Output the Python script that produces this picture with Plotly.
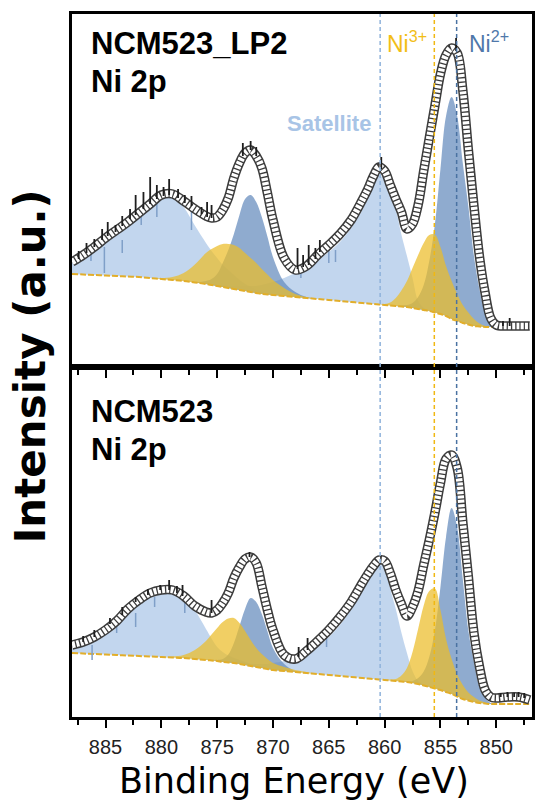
import plotly.graph_objects as go

# ---------------- data (binding energy grid, eV) ----------------
energy = [888, 887, 886, 885, 884, 883, 882, 881, 880, 879, 878, 877,
          876, 875.5, 875, 874.5, 874, 873.5, 873, 872.5, 872, 871.5, 871, 870.5, 870,
          869, 868, 867, 866, 865, 864, 863, 862,
          861.5, 861, 860.5, 860, 859.5, 859, 858.5, 858, 857.5, 857, 856.5, 856,
          855.5, 855, 854.5, 854, 853.5, 853, 852.5, 852, 851.5, 851, 850.5,
          850, 849, 848, 847]

# ----- NCM523_LP2 (top panel), intensities in a.u. -----
bg_lp2 = [93, 92.5, 92, 91.5, 91, 90.5, 90, 89, 88, 87, 86, 84.5,
          83, 82, 81, 80, 79, 78, 77, 76, 75, 74, 73, 72.5, 72,
          71, 70, 69, 68, 67, 66, 65, 64,
          63.5, 63, 62.5, 62, 61.5, 61, 60.5, 60, 59, 58, 57, 56,
          54.5, 53, 51, 48, 46, 44, 42.5, 41, 40.5, 40, 40,
          40, 40, 40, 40]
sat1_lp2 = [11, 17, 25, 34, 43, 52, 61, 72, 81, 84, 74, 57,
            41, 34, 28, 22, 18, 14, 10, 7, 5, 3, 2, 1, 0,
            0, 0, 0, 0, 0, 0, 0, 0,
            0, 0, 0, 0, 0, 0, 0, 0, 0, 0, 0, 0,
            0, 0, 0, 0, 0, 0, 0, 0, 0, 0, 0,
            0, 0, 0, 0]
ni3_12_lp2 = [0, 0, 0, 0, 0, 0, 0, 0, 1, 3, 8, 18,
              31, 36, 40, 43, 44, 44, 42, 38, 34, 30, 25, 20, 15,
              8, 3, 1, 0, 0, 0, 0, 0,
              0, 0, 0, 0, 0, 0, 0, 0, 0, 0, 0, 0,
              0, 0, 0, 0, 0, 0, 0, 0, 0, 0, 0,
              0, 0, 0, 0]
ni2_12_lp2 = [0, 0, 0, 0, 0, 0, 0, 0, 0, 0, 0, 0,
              3, 6, 12, 24, 38, 55, 75, 92, 97, 91, 77, 58, 38,
              14, 5, 1, 0, 0, 0, 0, 0,
              0, 0, 0, 0, 0, 0, 0, 0, 0, 0, 0, 0,
              0, 0, 0, 0, 0, 0, 0, 0, 0, 0, 0,
              0, 0, 0, 0]
sat2_lp2 = [0, 0, 0, 0, 0, 0, 0, 0, 0, 0, 0, 0,
            1, 1, 1, 2, 2, 3, 4, 5, 6, 7, 9, 11, 13,
            18, 24, 31, 39, 48, 59, 74, 93,
            106, 120, 129, 126, 114, 97, 72, 51, 30, 8, 2, 0,
            0, 0, 0, 0, 0, 0, 0, 0, 0, 0, 0,
            0, 0, 0, 0]
ni3_32_lp2 = [0, 0, 0, 0, 0, 0, 0, 0, 0, 0, 0, 0,
              0, 0, 0, 0, 0, 0, 0, 0, 0, 0, 0, 0, 0,
              0, 0, 0, 0, 0, 0, 0, 0,
              0, 0, 0, 1, 3, 8, 16, 26, 40, 54, 67, 76,
              78, 67, 50, 38, 27, 18, 12, 7, 3, 1, 0,
              0, 0, 0, 0]
ni2_32_lp2 = [0, 0, 0, 0, 0, 0, 0, 0, 0, 0, 0, 0,
              0, 0, 0, 0, 0, 0, 0, 0, 0, 0, 0, 0, 0,
              0, 0, 0, 0, 0, 0, 0, 0,
              0, 0, 0, 0, 0, 0, 1, 2, 5, 12, 25, 50,
              88, 145, 200, 222, 205, 160, 118, 70, 37, 14, 3,
              0, 0, 0, 0]
env_lp2 = [105, 112, 120, 129, 137, 145, 154, 163, 172, 173, 166, 158,
           151, 149, 150, 157, 169, 189, 204, 214, 217, 211, 199, 174, 147,
           109, 97, 101, 112, 122, 133, 147, 167,
           178, 191, 200, 196, 182, 168, 155, 138, 143, 162, 196, 229,
           261, 293, 312, 319, 314, 277, 217, 161, 110, 74, 49,
           42, 41, 41, 41]
spike_e_lp2 = [887.4, 886.7, 886.0, 885.3, 884.8, 884.1, 883.5, 882.8, 882.3, 881.6, 881.0,
               880.4, 879.8, 879.3, 878.5, 877.9, 877.3, 876.4, 875.9, 875.5, 872.7, 872.0,
               871.5, 867.8, 867.3, 866.8, 866.2, 865.8, 860.3, 853.6, 849.4, 848.8]
spike_lo_lp2 = [108, 114, 120, 127, 131, 135, 141, 148, 152, 158, 163,
                168, 171, 172, 169, 164, 161, 153, 150, 149, 211, 217,
                211, 98, 100, 102, 108, 115, 198, 316, 41, 41]
spike_hi_lp2 = [116, 124, 128, 138, 145, 142, 151, 158, 172, 175, 190,
                182, 180, 188, 178, 172, 171, 160, 165, 162, 224, 226,
                220, 119, 112, 122, 119, 127, 210, 329, 46, 49]
dip_e_lp2 = [886.3, 885.1, 883.5, 881.8, 880.4, 877.3, 867.5, 865.0, 864.4]
dip_lo_lp2 = [106, 94, 114, 142, 150, 137, 89, 104, 105]
dip_hi_lp2 = [116, 120, 127, 152, 164, 157, 99, 117, 117]

# ----- NCM523 (bottom panel), intensities in a.u. -----
bg_523 = [64, 63.5, 63, 62.5, 62, 61.5, 61, 60.5, 60, 59.5, 59, 58,
          57, 56.5, 56, 55, 54.5, 54, 53, 52, 51, 50, 49, 48, 47,
          46, 45, 44, 43, 42, 41, 40, 39,
          38.5, 38, 37.5, 37, 36.5, 36, 35.5, 35, 34, 33, 31.5, 30,
          28.5, 27, 25, 23, 20.5, 18, 16.5, 15, 14, 13.5, 13,
          13, 13, 13, 13]
sat1_523 = [4, 8, 13, 21, 32, 43, 53, 60, 64, 66, 62, 49,
            31, 22, 14, 10, 7, 5, 4, 3, 2, 1, 1, 0, 0,
            0, 0, 0, 0, 0, 0, 0, 0,
            0, 0, 0, 0, 0, 0, 0, 0, 0, 0, 0, 0,
            0, 0, 0, 0, 0, 0, 0, 0, 0, 0, 0,
            0, 0, 0, 0]
ni3_12_523 = [0, 0, 0, 0, 0, 0, 0, 0, 0, 1, 3, 9,
              19, 26, 33, 40, 44, 45, 41, 34, 26, 19, 14, 10, 7,
              4, 2, 1, 0, 0, 0, 0, 0,
              0, 0, 0, 0, 0, 0, 0, 0, 0, 0, 0, 0,
              0, 0, 0, 0, 0, 0, 0, 0, 0, 0, 0,
              0, 0, 0, 0]
ni2_12_523 = [0, 0, 0, 0, 0, 0, 0, 0, 0, 0, 0, 0,
              0, 0, 1, 3, 8, 20, 38, 56, 68, 65, 54, 38, 22,
              7, 1, 0, 0, 0, 0, 0, 0,
              0, 0, 0, 0, 0, 0, 0, 0, 0, 0, 0, 0,
              0, 0, 0, 0, 0, 0, 0, 0, 0, 0, 0,
              0, 0, 0, 0]
sat2_523 = [0, 0, 0, 0, 0, 0, 0, 0, 0, 0, 0, 0,
            1, 1, 1, 1, 1, 2, 2, 2, 2, 3, 4, 5, 7,
            10, 15, 19, 27, 38, 51, 68, 89,
            100, 110, 117, 114, 92, 72, 49, 29, 12, 3, 1, 0,
            0, 0, 0, 0, 0, 0, 0, 0, 0, 0, 0,
            0, 0, 0, 0]
ni3_32_523 = [0, 0, 0, 0, 0, 0, 0, 0, 0, 0, 0, 0,
              0, 0, 0, 0, 0, 0, 0, 0, 0, 0, 0, 0, 0,
              0, 0, 0, 0, 0, 0, 0, 0,
              0, 0, 0, 0, 1, 2, 6, 14, 31, 55, 80, 96,
              100, 80, 53, 35, 22, 14, 8, 5, 2.5, 1, 0,
              0, 0, 0, 0]
ni2_32_523 = [0, 0, 0, 0, 0, 0, 0, 0, 0, 0, 0, 0,
              0, 0, 0, 0, 0, 0, 0, 0, 0, 0, 0, 0, 0,
              0, 0, 0, 0, 0, 0, 0, 0,
              0, 0, 0, 0, 0, 0, 0, 1, 2, 6, 14, 30,
              58, 103, 155, 186, 169, 120, 70, 40, 16, 6, 1,
              0, 0, 0, 0]
env_523 = [72, 75, 80, 87, 96, 108, 117, 124, 127, 127, 121, 111,
           105, 104, 107, 114, 124, 139, 150, 158, 160, 154, 131, 107, 87,
           62, 58, 66, 76, 87, 100, 115, 134,
           143, 151, 157, 156, 144, 127, 113, 101, 110, 126, 152, 177,
           204, 234, 258, 262, 249, 195, 140, 84, 50, 27, 20,
           19, 20, 20, 17]
spike_e_523 = [887.0, 886.0, 884.6, 883.5, 882.3, 881.2, 880.1, 879.3, 878.6, 878.1, 875.5,
               872.1, 867.7, 866.9, 849.6, 849.0, 848.4, 848.0, 847.5]
spike_lo_523 = [75, 80, 93, 102, 115, 122, 127, 127, 124, 121, 104,
                160, 60, 67, 20, 20, 20, 20, 19]
spike_hi_523 = [81, 87, 99, 110, 120, 128, 132, 137, 131, 132, 117,
                165, 70, 79, 24, 25, 24, 25, 24]
dip_e_523 = [886.2, 884.0, 882.3, 880.6, 877.9, 865.2]
dip_lo_523 = [57, 84, 90, 110, 104, 70]
dip_hi_523 = [72, 94, 104, 120, 117, 80]

# reference lines (eV)
line_energy = [860.4, 855.55, 853.55]
tick_vals = [885, 880, 875, 870, 865, 860, 855, 850]
minor_vals = [887.5, 882.5, 877.5, 872.5, 867.5, 862.5, 857.5, 852.5, 847.5]

# ---------------- styling ----------------
C_SAT = 'rgba(170,198,232,0.72)'
C_NI3 = 'rgba(236,188,40,0.72)'
C_NI2 = 'rgba(100,138,188,0.72)'
C_BG = '#E2AE2A'
C_ENV = '#3c3c3c'
LINE_COLORS = ['#8FB3DB', '#F0B812', '#4A72A2']

fig = go.Figure()


def add_component(h, bg, color, xa, ya):
    idx = [i for i, v in enumerate(h) if v > 0]
    lo = max(idx[0] - 1, 0)
    hi = min(idx[-1] + 1, len(h) - 1)
    xs = energy[lo:hi + 1]
    base = bg[lo:hi + 1]
    top = [b + v for b, v in zip(base, h[lo:hi + 1])]
    fig.add_trace(go.Scatter(x=xs, y=base, mode='lines', line=dict(width=0, shape='spline'),
                             hoverinfo='skip', showlegend=False, xaxis=xa, yaxis=ya))
    fig.add_trace(go.Scatter(x=xs, y=top, mode='lines', line=dict(width=0, shape='spline'),
                             fill='tonexty', fillcolor=color,
                             hoverinfo='skip', showlegend=False, xaxis=xa, yaxis=ya))


def segs(e, lo, hi):
    xs, ys = [], []
    for a, b, c in zip(e, lo, hi):
        xs += [a, a, None]
        ys += [b, c, None]
    return xs, ys


def add_panel(bg, sat1, sat2, ni2a, ni2b, ni3a, ni3b, env, se, slo, shi, de, dlo, dhi, xa, ya):
    add_component(sat1, bg, C_SAT, xa, ya)
    add_component(sat2, bg, C_SAT, xa, ya)
    add_component(ni2a, bg, C_NI2, xa, ya)
    add_component(ni2b, bg, C_NI2, xa, ya)
    add_component(ni3a, bg, C_NI3, xa, ya)
    add_component(ni3b, bg, C_NI3, xa, ya)
    fig.add_trace(go.Scatter(x=energy, y=bg, mode='lines',
                             line=dict(color=C_BG, width=2, dash='6px,2px', shape='spline'),
                             showlegend=False, hoverinfo='skip', xaxis=xa, yaxis=ya))
    dx, dy = segs(de, dlo, dhi)
    fig.add_trace(go.Scatter(x=dx, y=dy, mode='lines', line=dict(color='#7f9fc8', width=1.5),
                             showlegend=False, hoverinfo='skip', xaxis=xa, yaxis=ya))
    fig.add_trace(go.Scatter(x=energy, y=env, mode='lines',
                             line=dict(color=C_ENV, width=9.5, shape='spline'),
                             showlegend=False, hoverinfo='skip', xaxis=xa, yaxis=ya))
    fig.add_trace(go.Scatter(x=energy, y=env, mode='lines',
                             line=dict(color='white', width=6.5, shape='spline', dash='3px,1.3px'),
                             showlegend=False, hoverinfo='skip', xaxis=xa, yaxis=ya))
    sx, sy = segs(se, slo, shi)
    fig.add_trace(go.Scatter(x=sx, y=sy, mode='lines', line=dict(color='#1e1e1e', width=1.8),
                             showlegend=False, hoverinfo='skip', xaxis=xa, yaxis=ya))


add_panel(bg_lp2, sat1_lp2, sat2_lp2, ni2_12_lp2, ni2_32_lp2, ni3_12_lp2, ni3_32_lp2, env_lp2,
          spike_e_lp2, spike_lo_lp2, spike_hi_lp2, dip_e_lp2, dip_lo_lp2, dip_hi_lp2, 'x2', 'y2')
add_panel(bg_523, sat1_523, sat2_523, ni2_12_523, ni2_32_523, ni3_12_523, ni3_32_523, env_523,
          spike_e_523, spike_lo_523, spike_hi_523, dip_e_523, dip_lo_523, dip_hi_523, 'x', 'y')

# dashed reference lines spanning both panels
for e, c in zip(line_energy, LINE_COLORS):
    fig.add_shape(type='line', xref='x', yref='paper', x0=e, x1=e, y0=0, y1=1,
                  line=dict(color=c, width=1.5, dash='4px,3px'), layer='above')

PL, PT, PW, PH = 72, 14, 463, 703


def px(x):
    return (x - PL) / PW


def py(y):
    return (PT + PH - y) / PH


BOLD = dict(family='Liberation Sans, Arial, sans-serif', size=31, color='black', weight='bold')
ann = [
    dict(text='NCM523_LP2', x=px(89), y=py(43), xanchor='left', yanchor='middle', font=BOLD),
    dict(text='Ni 2p', x=px(89), y=py(81), xanchor='left', yanchor='middle', font=BOLD),
    dict(text='NCM523', x=px(89), y=py(411), xanchor='left', yanchor='middle', font=BOLD),
    dict(text='Ni 2p', x=px(89), y=py(449), xanchor='left', yanchor='middle', font=BOLD),
    dict(text='Satellite', x=px(331), y=py(123), xanchor='center', yanchor='middle',
         font=dict(family='Liberation Sans, Arial, sans-serif', size=22, color='#A8C4E6', weight='bold')),
    dict(text='Ni<sup>3+</sup>', x=px(387), y=py(42), xanchor='left', yanchor='middle',
         font=dict(family='Liberation Sans, Arial, sans-serif', size=23, color='#F2BE16')),
    dict(text='Ni<sup>2+</sup>', x=px(470), y=py(42), xanchor='left', yanchor='middle',
         font=dict(family='Liberation Sans, Arial, sans-serif', size=23, color='#4F78AA')),
    dict(text='Binding Energy (eV)', x=px(295), y=py(781), xanchor='center', yanchor='middle',
         font=dict(family='DejaVu Sans, sans-serif', size=35, color='black')),
    dict(text='Intensity (a.u.)', x=px(30), y=py(366), xanchor='center', yanchor='middle', textangle=-90,
         font=dict(family='DejaVu Sans, sans-serif', size=42, color='black', weight='bold')),
]
for a in ann:
    a.update(xref='paper', yref='paper', showarrow=False)

axis_common = dict(range=[888, 846.8], showgrid=False, zeroline=False, showline=True,
                   linecolor='black', linewidth=3, mirror=True,
                   tickmode='array', tickvals=tick_vals, ticks='outside', ticklen=8, tickwidth=2,
                   tickcolor='black',
                   minor=dict(ticks='outside', ticklen=5, tickwidth=2, tickcolor='black',
                              tickmode='array', tickvals=minor_vals))

fig.update_layout(
    width=536, height=808,
    margin=dict(l=PL, r=536 - PL - PW, t=PT, b=808 - PT - PH),
    paper_bgcolor='white', plot_bgcolor='white',
    showlegend=False,
    xaxis=dict(axis_common, anchor='y', domain=[0, 1], ticklabelstandoff=2,
               tickfont=dict(family='Liberation Sans, Arial, sans-serif', size=20, color='#222')),
    xaxis2=dict(axis_common, anchor='y2', domain=[0, 1], matches='x', showticklabels=False),
    yaxis=dict(domain=[0, 350 / 703], range=[0, 350], showticklabels=False, ticks='',
               showgrid=False, zeroline=False, showline=True, linecolor='black', linewidth=3, mirror=True),
    yaxis2=dict(domain=[350 / 703, 1], range=[0, 353], showticklabels=False, ticks='',
                showgrid=False, zeroline=False, showline=True, linecolor='black', linewidth=3, mirror=True),
    annotations=ann,
)

fig.write_html('out.html')
